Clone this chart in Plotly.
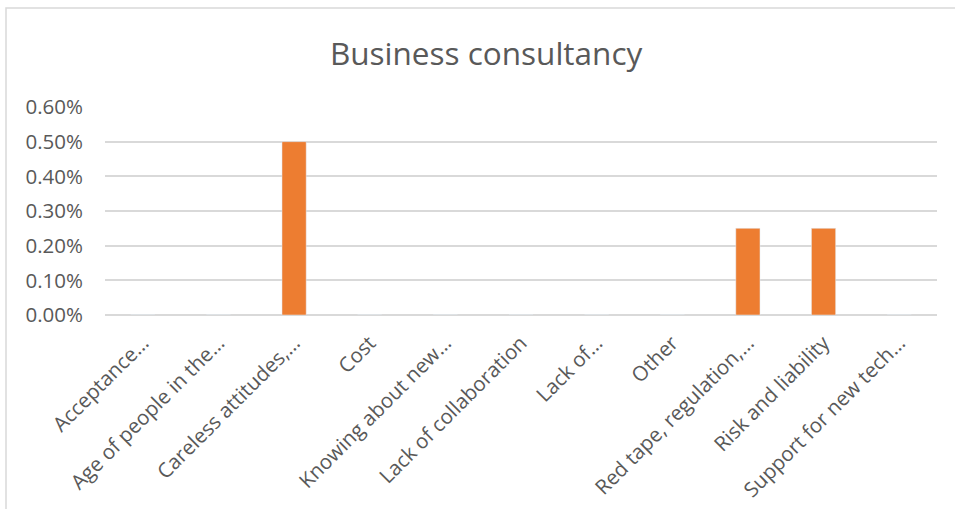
import plotly.graph_objects as go

categories = ["Acceptance…", "Age of people in the…", "Careless attitudes,…", "Cost",
              "Knowing about new…", "Lack of collaboration", "Lack of…", "Other",
              "Red tape, regulation,…", "Risk and liability", "Support for new tech…"]
values = [0, 0, 0.005, 0, 0, 0, 0, 0, 0.0025, 0.0025, 0]
y_ticks = [0, 0.001, 0.002, 0.003, 0.004, 0.005, 0.006]

W, H = 955, 509
L, R, T, B = 105, 18, 107, 194
pw, ph = W - L - R, H - T - B

fig = go.Figure(go.Bar(x=categories, y=values, marker_color="#ED7D31", width=0.32))

fig.update_layout(
    width=W, height=H,
    margin=dict(l=L, r=R, t=T, b=B, autoexpand=False),
    paper_bgcolor="white", plot_bgcolor="white",
    font=dict(family="Open Sans", color="#595959"),
    title=dict(text="Business consultancy", x=0.509, xanchor="center", y=1 - 54 / H, yanchor="middle",
               font=dict(size=31.5, color="#595959", family="Open Sans")),
    showlegend=False,
    xaxis=dict(tickangle=-45, tickfont=dict(size=20.5, color="#595959"), showgrid=False,
               showline=False, ticks="", range=[-0.5, 10.5], ticklabelstandoff=11),
    yaxis=dict(range=[0, 0.006], tickvals=y_ticks, tickformat=".2%", showgrid=True,
               gridcolor="#D9D9D9", gridwidth=1.5, zeroline=True, zerolinecolor="#D9D9D9",
               zerolinewidth=1.5, tickfont=dict(size=20.5, color="#595959"), ticks="",
               ticklabelstandoff=21),
    shapes=[dict(type="rect", xref="paper", yref="paper",
                 x0=(6 - L) / pw, x1=(W + 5 - L) / pw,
                 y0=-(B + 5) / ph, y1=(H - 8 - B) / ph,
                 line=dict(color="#D9D9D9", width=1.5), fillcolor="rgba(0,0,0,0)", layer="below")],
)

fig.write_html("out.html", config={"displayModeBar": False},
               post_script="document.body.style.margin='0';document.body.style.overflow='hidden';")
